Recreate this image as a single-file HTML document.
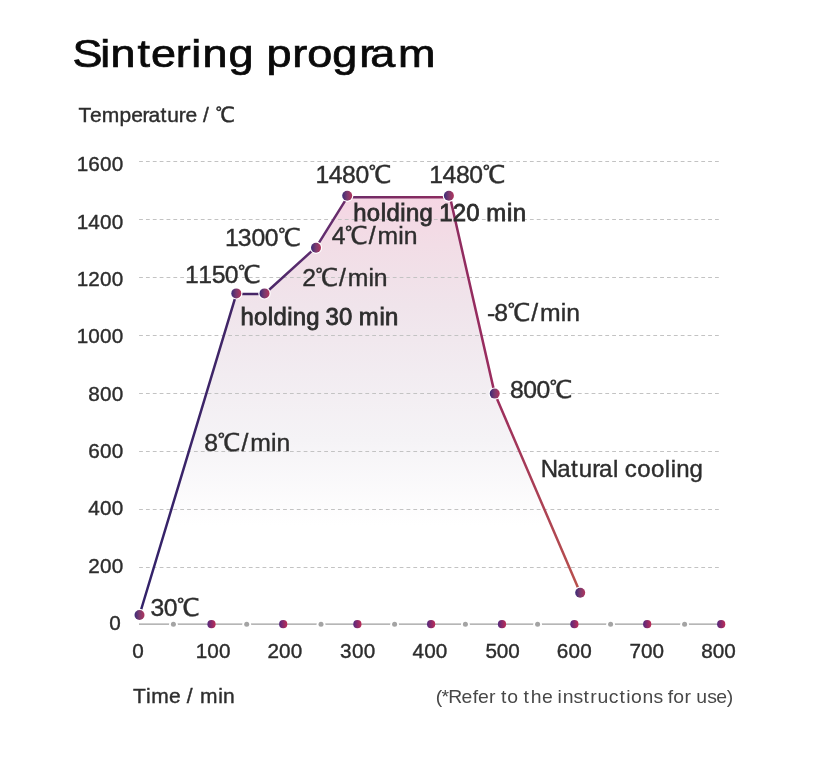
<!DOCTYPE html>
<html lang="en"><head><meta charset="utf-8"><title>Sintering program</title>
<style>
html,body{margin:0;padding:0;background:#fff;}
body{width:838px;height:768px;overflow:hidden;}
svg{display:block;}
text{font-family:"Liberation Sans", "WenQuanYi Zen Hei", sans-serif;white-space:pre;font-kerning:none;}
.g{stroke:#c3c3c3;stroke-width:1;stroke-dasharray:3.8 3.056;fill:none;}
</style></head><body>
<svg width="838" height="768" viewBox="0 0 838 768">
<defs>
<linearGradient id="fillg" gradientUnits="userSpaceOnUse" x1="0" y1="197" x2="0" y2="525"><stop offset="0" stop-color="#f5d6e3"/><stop offset="0.145" stop-color="#f2dde6"/><stop offset="0.33" stop-color="#f0e4eb"/><stop offset="0.54" stop-color="#f2ecf1"/><stop offset="0.74" stop-color="#f5f3f6"/><stop offset="1" stop-color="#ffffff"/></linearGradient>
<linearGradient id="lineg" gradientUnits="userSpaceOnUse" x1="139" y1="0" x2="581" y2="0"><stop offset="0" stop-color="#32226a"/><stop offset="0.25" stop-color="#442666"/><stop offset="0.40" stop-color="#5f2d70"/><stop offset="0.57" stop-color="#7c2b62"/><stop offset="0.80" stop-color="#9a2c5e"/><stop offset="1" stop-color="#ba524c"/></linearGradient>
<linearGradient id="dotg" x1="0" y1="0" x2="1" y2="0"><stop offset="0" stop-color="#3a2b78"/><stop offset="0.5" stop-color="#7b3a6e"/><stop offset="1" stop-color="#b2345c"/></linearGradient>
<linearGradient id="axg" x1="0" y1="0" x2="1" y2="0"><stop offset="0" stop-color="#54297e"/><stop offset="0.5" stop-color="#8a2b6a"/><stop offset="1" stop-color="#be2c56"/></linearGradient>
</defs>
<rect width="838" height="768" fill="#fff"/>
<path d="M139.50,615.00 L236.30,294.05 L264.50,294.05 L316.40,246.90 L347.40,197.15 L450.00,197.15 L494.70,393.60 L580.20,592.80 Z" fill="url(#fillg)"/>
<line class="g" x1="139.1" y1="161.5" x2="719.1" y2="161.5"/>
<line class="g" x1="139.1" y1="219.5" x2="719.1" y2="219.5"/>
<line class="g" x1="139.1" y1="277.5" x2="719.1" y2="277.5"/>
<line class="g" x1="139.1" y1="335.5" x2="719.1" y2="335.5"/>
<line class="g" x1="139.1" y1="393.5" x2="719.1" y2="393.5"/>
<line class="g" x1="139.1" y1="451.5" x2="719.1" y2="451.5"/>
<line class="g" x1="139.1" y1="509.5" x2="719.1" y2="509.5"/>
<line class="g" x1="139.1" y1="567.5" x2="719.1" y2="567.5"/>
<line x1="139" y1="624.2" x2="721" y2="624.2" stroke="#9e9e9e" stroke-width="1.3"/>
<circle cx="173.4" cy="624.2" r="4.4" fill="#fff"/><circle cx="173.4" cy="624.2" r="2.5" fill="#a4a4a4"/>
<circle cx="246.7" cy="624.2" r="4.4" fill="#fff"/><circle cx="246.7" cy="624.2" r="2.5" fill="#a4a4a4"/>
<circle cx="321.0" cy="624.2" r="4.4" fill="#fff"/><circle cx="321.0" cy="624.2" r="2.5" fill="#a4a4a4"/>
<circle cx="394.6" cy="624.2" r="4.4" fill="#fff"/><circle cx="394.6" cy="624.2" r="2.5" fill="#a4a4a4"/>
<circle cx="465.4" cy="624.2" r="4.4" fill="#fff"/><circle cx="465.4" cy="624.2" r="2.5" fill="#a4a4a4"/>
<circle cx="537.6" cy="624.2" r="4.4" fill="#fff"/><circle cx="537.6" cy="624.2" r="2.5" fill="#a4a4a4"/>
<circle cx="610.6" cy="624.2" r="4.4" fill="#fff"/><circle cx="610.6" cy="624.2" r="2.5" fill="#a4a4a4"/>
<circle cx="684.6" cy="624.2" r="4.4" fill="#fff"/><circle cx="684.6" cy="624.2" r="2.5" fill="#a4a4a4"/>
<circle cx="211.5" cy="624.2" r="4.1" fill="url(#axg)"/>
<circle cx="283.2" cy="624.2" r="4.1" fill="url(#axg)"/>
<circle cx="357.4" cy="624.2" r="4.1" fill="url(#axg)"/>
<circle cx="431.1" cy="624.2" r="4.1" fill="url(#axg)"/>
<circle cx="502.0" cy="624.2" r="4.1" fill="url(#axg)"/>
<circle cx="574.4" cy="624.2" r="4.1" fill="url(#axg)"/>
<circle cx="647.2" cy="624.2" r="4.1" fill="url(#axg)"/>
<circle cx="721.2" cy="624.2" r="4.1" fill="url(#axg)"/>
<path d="M139.50,615.00 L236.30,294.05 L264.50,294.05 L316.40,246.90 L347.40,197.15 L450.00,197.15 L494.70,393.60 L580.20,592.80" fill="none" stroke="url(#lineg)" stroke-width="2.5" stroke-linejoin="round"/>
<circle cx="139.5" cy="615.0" r="6.2" fill="#fff"/><circle cx="139.5" cy="615.0" r="5" fill="url(#dotg)"/>
<circle cx="236.3" cy="293.4" r="6.2" fill="#fff"/><circle cx="236.3" cy="293.4" r="5" fill="url(#dotg)"/>
<circle cx="264.5" cy="293.4" r="6.2" fill="#fff"/><circle cx="264.5" cy="293.4" r="5" fill="url(#dotg)"/>
<circle cx="316.0" cy="247.7" r="6.2" fill="#fff"/><circle cx="316.0" cy="247.7" r="5" fill="url(#dotg)"/>
<circle cx="347.2" cy="195.7" r="6.2" fill="#fff"/><circle cx="347.2" cy="195.7" r="5" fill="url(#dotg)"/>
<circle cx="448.9" cy="195.8" r="6.2" fill="#fff"/><circle cx="448.9" cy="195.8" r="5" fill="url(#dotg)"/>
<circle cx="494.7" cy="393.6" r="6.2" fill="#fff"/><circle cx="494.7" cy="393.6" r="5" fill="url(#dotg)"/>
<circle cx="580.2" cy="592.8" r="6.2" fill="#fff"/><circle cx="580.2" cy="592.8" r="5" fill="url(#dotg)"/>
<text transform="scale(1.16,1)" x="62.57 86.37 95.33 118.63 130.17 151.52 164.97 174.62 197.10 219.76 229.82 252.00 264.78 286.53 309.62 319.29 343.13" y="66.6" font-size="38.8" fill="#0a0a0a" stroke="#0a0a0a" stroke-width="0.7">Sintering program</text>
<text x="78.61 90.02 101.71 119.62 131.13 142.47 148.44 160.50 167.17 178.84 185.45 196.69 203.06 210.49 215.62" y="121.8" font-size="21.0" fill="#2d2d2d" stroke="#2d2d2d" stroke-width="0.4">Temperature / ℃</text>
<text x="76.64 88.29 99.97 111.78" y="171.4" font-size="20.68" fill="#2d2d2d" stroke="#2d2d2d" stroke-width="0.4">1600</text>
<text x="76.64 88.28 99.97 111.78" y="228.7" font-size="20.68" fill="#2d2d2d" stroke="#2d2d2d" stroke-width="0.4">1400</text>
<text x="76.64 88.27 99.97 111.78" y="286.0" font-size="20.68" fill="#2d2d2d" stroke="#2d2d2d" stroke-width="0.4">1200</text>
<text x="76.64 88.17 99.97 111.78" y="343.3" font-size="20.68" fill="#2d2d2d" stroke="#2d2d2d" stroke-width="0.4">1000</text>
<text x="88.19 99.99 111.78" y="400.6" font-size="20.68" fill="#2d2d2d" stroke="#2d2d2d" stroke-width="0.4">800</text>
<text x="88.30 99.99 111.78" y="457.9" font-size="20.68" fill="#2d2d2d" stroke="#2d2d2d" stroke-width="0.4">600</text>
<text x="88.30 99.99 111.78" y="515.2" font-size="20.68" fill="#2d2d2d" stroke="#2d2d2d" stroke-width="0.4">400</text>
<text x="88.29 99.99 111.78" y="572.5" font-size="20.68" fill="#2d2d2d" stroke="#2d2d2d" stroke-width="0.4">200</text>
<text x="109.28" y="630.0" font-size="20.68" fill="#2d2d2d" stroke="#2d2d2d" stroke-width="0.4">0</text>
<text x="132.29" y="657.6" font-size="20.68" fill="#2d2d2d" stroke="#2d2d2d" stroke-width="0.4">0</text>
<text x="195.70 207.25 219.07" y="657.6" font-size="20.68" fill="#2d2d2d" stroke="#2d2d2d" stroke-width="0.4">100</text>
<text x="267.54 279.12 290.79" y="657.6" font-size="20.68" fill="#2d2d2d" stroke="#2d2d2d" stroke-width="0.4">200</text>
<text x="339.99 351.91 363.69" y="657.6" font-size="20.68" fill="#2d2d2d" stroke="#2d2d2d" stroke-width="0.4">300</text>
<text x="412.56 424.16 435.86" y="657.6" font-size="20.68" fill="#2d2d2d" stroke="#2d2d2d" stroke-width="0.4">400</text>
<text x="485.54 496.71 508.28" y="657.6" font-size="20.68" fill="#2d2d2d" stroke="#2d2d2d" stroke-width="0.4">500</text>
<text x="556.84 568.55 580.36" y="657.6" font-size="20.68" fill="#2d2d2d" stroke="#2d2d2d" stroke-width="0.4">600</text>
<text x="629.55 641.09 652.57" y="657.6" font-size="20.68" fill="#2d2d2d" stroke="#2d2d2d" stroke-width="0.4">700</text>
<text x="701.28 712.72 724.16" y="657.6" font-size="20.68" fill="#2d2d2d" stroke="#2d2d2d" stroke-width="0.4">800</text>
<text x="133.01 145.94 151.26 169.12 180.45 186.87 194.34 200.03 218.28 223.11" y="703.3" font-size="21.0" fill="#2d2d2d" stroke="#2d2d2d" stroke-width="0.4">Time / min</text>
<text transform="scale(1.08,1)" x="403.44 408.76 415.08 427.23 437.72 442.52 452.78 458.99 463.95 469.77 479.89 484.83 491.38 501.87 511.78 516.29 521.07 531.10 540.19 546.53 553.24 563.78 573.72 579.93 584.27 594.97 605.00 613.43 618.31 623.29 633.75 639.96 644.74 654.81 663.22 672.82" y="703.2" font-size="17.96" fill="#484848">(*Refer to the instructions for use)</text>
<text x="315.40 328.68 341.99 355.42 368.62" y="182.6" font-size="24.72" fill="#2d2d2d" stroke="#2d2d2d" stroke-width="0.4">1480℃</text>
<text x="429.30 442.59 455.92 469.37 482.59" y="182.6" font-size="24.72" fill="#2d2d2d" stroke="#2d2d2d" stroke-width="0.4">1480℃</text>
<text x="224.91 237.86 251.39 264.76 277.91" y="246.0" font-size="24.72" fill="#2d2d2d" stroke="#2d2d2d" stroke-width="0.4">1300℃</text>
<text x="184.91 198.27 211.81 224.71 237.84" y="282.8" font-size="24.72" fill="#2d2d2d" stroke="#2d2d2d" stroke-width="0.4">1150℃</text>
<text x="331.82 344.83 368.73 377.49 398.34 403.67" y="244.0" font-size="24.72" fill="#2d2d2d" stroke="#2d2d2d" stroke-width="0.4">4℃/min</text>
<text x="302.24 315.21 339.01 347.74 368.51 373.82" y="285.5" font-size="24.72" fill="#2d2d2d" stroke="#2d2d2d" stroke-width="0.4">2℃/min</text>
<text x="353.30 366.82 380.64 386.46 400.29 405.97 419.48 432.88 439.24 452.68 466.26 479.71 486.15 506.97 512.66" y="220.6" font-size="23.88" fill="#2d2d2d" stroke="#2d2d2d" stroke-width="0.8">holding 120 min</text>
<text x="240.62 254.02 267.72 273.48 287.18 292.82 306.21 319.49 325.43 339.08 352.41 358.79 379.42 385.07" y="324.7" font-size="23.88" fill="#2d2d2d" stroke="#2d2d2d" stroke-width="0.8">holding 30 min</text>
<text x="204.31 217.47 241.42 250.20 271.10 276.45" y="451.4" font-size="24.72" fill="#2d2d2d" stroke="#2d2d2d" stroke-width="0.4">8℃/min</text>
<text x="150.48 163.85 176.85" y="616.0" font-size="24.72" fill="#2d2d2d" stroke="#2d2d2d" stroke-width="0.4">30℃</text>
<text x="487.11 494.33 507.44 531.30 540.05 560.87 566.19" y="321.3" font-size="24.72" fill="#2d2d2d" stroke="#2d2d2d" stroke-width="0.4">-8℃/min</text>
<text x="509.93 523.17 536.41 549.42" y="397.5" font-size="24.72" fill="#2d2d2d" stroke="#2d2d2d" stroke-width="0.4">800℃</text>
<text x="540.64 557.22 571.10 578.75 592.18 599.06 613.04 618.64 624.84 637.34 651.04 664.81 670.68 676.19 689.59" y="477.1" font-size="24.0" fill="#2d2d2d" stroke="#2d2d2d" stroke-width="0.4">Natural cooling</text>
</svg></body></html>
